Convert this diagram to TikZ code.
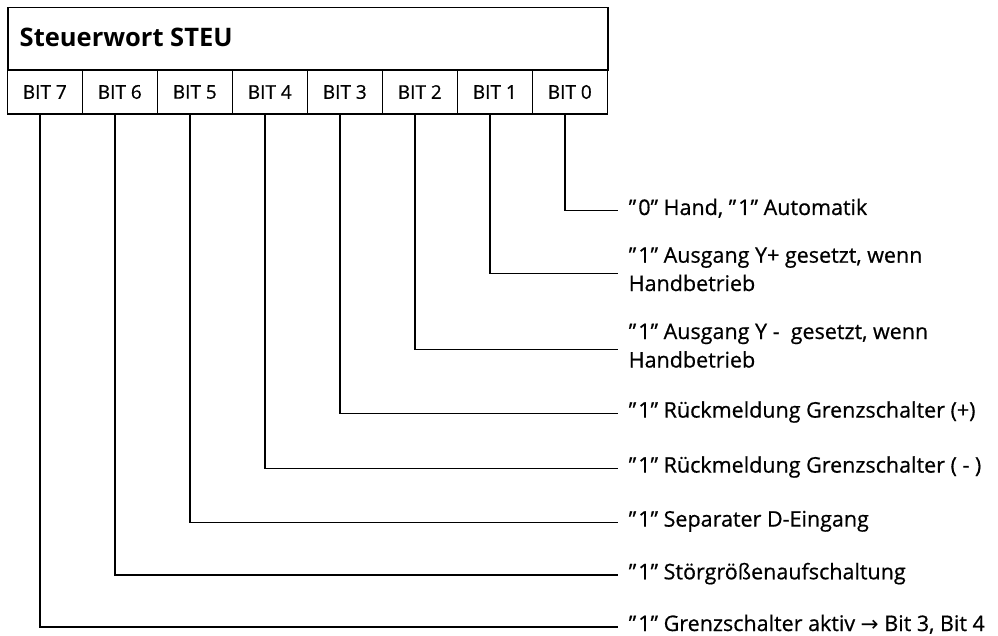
\documentclass[tikz,border=0pt]{standalone}
\usepackage{fontspec}
\setmainfont{Open Sans}
\newfontfamily\lblfont{Open Sans}[FakeBold=0.6]
\newfontfamily\arrfont{DejaVu Sans}
\newcommand{\qq}[1]{”\kern2pt#1”}
\begin{document}
\begin{tikzpicture}[x=1pt,y=-1pt,line width=1.5pt,
  cell/.style={draw, minimum width=75pt, minimum height=44pt, inner sep=0pt, font=\lblfont\fontsize{19}{21}\selectfont},
  lbl/.style={anchor=base west, inner sep=0pt, font=\lblfont\fontsize{21.5}{26}\selectfont},
  conn/.style={line width=1.5pt}]
\useasboundingbox (0,0) rectangle (998,636);
\node[draw, anchor=north west, minimum width=600pt, minimum height=63pt, inner sep=0pt] (hdr) at (7.3,7) {};
\node[anchor=base west, inner sep=0pt, font=\bfseries\fontsize{25.5}{28}\selectfont] (title) at (19,46.5) {Steuerwort STEU};
\node[cell] (b7) at (44.8,92) {BIT 7};
\node[cell] (b6) at (119.8,92) {BIT 6};
\node[cell] (b5) at (194.8,92) {BIT 5};
\node[cell] (b4) at (269.8,92) {BIT 4};
\node[cell] (b3) at (344.8,92) {BIT 3};
\node[cell] (b2) at (419.8,92) {BIT 2};
\node[cell] (b1) at (494.8,92) {BIT 1};
\node[cell] (b0) at (569.8,92) {BIT 0};
\coordinate (e0) at (618,210.7);
\coordinate (e1) at (618,273.3);
\coordinate (e2) at (618,349.3);
\coordinate (e3) at (618,413.3);
\coordinate (e4) at (618,468.3);
\coordinate (e5) at (618,522.3);
\coordinate (e6) at (618,575);
\coordinate (e7) at (618,627);
\draw[conn] ([xshift=-5pt]b0.south) |- (e0);
\draw[conn] ([xshift=-5pt]b1.south) |- (e1);
\draw[conn] ([xshift=-5pt]b2.south) |- (e2);
\draw[conn] ([xshift=-5pt]b3.south) |- (e3);
\draw[conn] ([xshift=-5pt]b4.south) |- (e4);
\draw[conn] ([xshift=-5pt]b5.south) |- (e5);
\draw[conn] ([xshift=-5pt]b6.south) |- (e6);
\draw[conn] ([xshift=-5pt]b7.south) |- (e7);
\node[lbl] (l0) at (628,215) {\qq{0} Hand, \qq{1} Automatik};
\node[lbl] (l1a) at (628,262.7) {\qq{1} Ausgang Y+ gesetzt, wenn};
\node[lbl] (l1b) at (628,291) {Handbetrieb};
\node[lbl] (l2a) at (628,339) {\qq{1} Ausgang Y -\ \ gesetzt, wenn};
\node[lbl] (l2b) at (628,367.5) {Handbetrieb};
\node[lbl] (l3) at (628,417.6) {\qq{1} Rückmeldung Grenzschalter (+)};
\node[lbl] (l4) at (628,472.6) {\qq{1} Rückmeldung Grenzschalter ( - )};
\node[lbl] (l5) at (628,526.6) {\qq{1} Separater D-Eingang};
\node[lbl] (l6) at (628,579.3) {\qq{1} Störgrößenaufschaltung};
\node[lbl] (l7) at (628,631) {\qq{1} Grenzschalter aktiv {\arrfont→} Bit 3, Bit 4};
\end{tikzpicture}
\end{document}
